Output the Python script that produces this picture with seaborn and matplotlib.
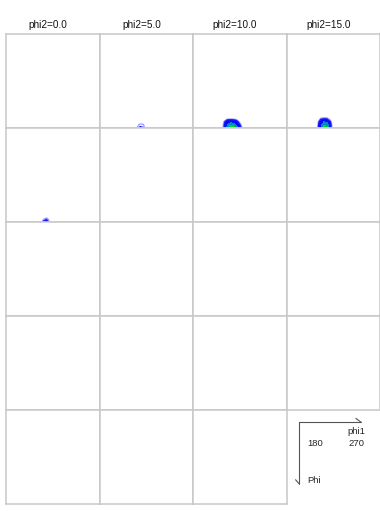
import numpy as np
import seaborn as sns
import matplotlib
matplotlib.use("Agg")
import matplotlib.pyplot as plt

# Euler angle ranges shown in every section
phi1_range = [180, 270]
Phi_range = [0, 90]
phi2_sections = [0.0, 5.0, 10.0, 15.0, 20.0, 25.0, 30.0, 35.0, 40.0, 45.0,
                 50.0, 55.0, 60.0, 65.0, 70.0, 75.0, 80.0, 85.0, 90.0]

# Sampling grid of the ODF intensity near the peaks
grid_phi1 = [204, 207, 210, 213, 216, 219, 222, 225, 228, 231]
grid_Phi = [78, 81, 84, 87, 90]

odf_phi2_5 = [
    [0, 0, 0, 0, 0, 0, 0, 0, 0, 0],
    [0, 0, 0, 0, 0, 0, 0, 0, 0, 0],
    [0, 0, 0, 0, 0.3, 0.5, 0.45, 0.1, 0, 0],
    [0, 0, 0, 0.1, 0.7, 1.05, 1.0, 0.4, 0, 0],
    [0, 0, 0, 0.2, 0.9, 1.35, 1.25, 0.5, 0, 0],
]
odf_phi2_10 = [
    [0, 0, 0, 0, 0, 0, 0, 0, 0, 0],
    [0, 0, 0.35, 0.7, 0.7, 0.7, 0.55, 0.2, 0, 0],
    [0, 0.1, 1.0, 2.0, 2.2, 2.1, 1.6, 0.7, 0.2, 0],
    [0, 0.2, 1.2, 2.6, 3.3, 3.2, 2.4, 1.3, 0.4, 0],
    [0, 0.3, 1.3, 3.0, 4.0, 3.9, 3.0, 1.7, 0.6, 0.1],
]
odf_phi2_15 = [
    [0, 0, 0, 0.2, 0.3, 0.25, 0.1, 0, 0, 0],
    [0, 0, 0.3, 1.0, 1.15, 1.1, 0.6, 0, 0, 0],
    [0, 0, 0.6, 2.0, 2.6, 2.4, 1.3, 0.2, 0, 0],
    [0, 0.1, 0.8, 2.3, 3.3, 3.1, 1.6, 0.3, 0, 0],
    [0, 0.1, 0.8, 2.5, 3.9, 3.7, 1.6, 0.3, 0, 0],
]
odf_phi2_20 = [
    [0, 0, 0, 0, 0, 0, 0, 0, 0, 0],
    [0, 0, 0, 0, 0, 0, 0, 0, 0, 0],
    [0, 0, 0, 0, 0.3, 0.4, 0.3, 0, 0, 0],
    [0, 0, 0, 0.1, 0.8, 1.1, 0.7, 0.1, 0, 0],
    [0, 0, 0, 0.2, 1.4, 1.8, 0.9, 0.2, 0, 0],
]
odf_sections = {5.0: odf_phi2_5, 10.0: odf_phi2_10,
                15.0: odf_phi2_15, 20.0: odf_phi2_20}

line_levels = [0.9, 1.2]
line_colors = ["#9c9cff", "#1a1aff"]
fill_levels = [1.5, 2.6, 3.4, 3.8, 99]
fill_colors = ["#0a0af0", "#0088c8", "#10c830", "#80e000"]

sns.set_style("white")
plt.rcParams["font.family"] = ["Liberation Sans", "DejaVu Sans"]

W, H = 380, 511
fig = plt.figure(figsize=(W / 100, H / 100), dpi=100)
fig.patch.set_facecolor("white")

col_x = [6, 99.5, 193, 286.5]
row_y = [34, 128, 222, 316, 410]
pw, ph = 93.5, 94

X, Y = np.meshgrid(grid_phi1, grid_Phi)

for i, phi2 in enumerate(phi2_sections):
    r, c = divmod(i, 4)
    ax = fig.add_axes([col_x[c] / W, 1 - (row_y[r] + ph) / H, pw / W, ph / H])
    ax.set_xlim(phi1_range)
    ax.set_ylim(Phi_range[1], Phi_range[0])
    ax.set_xticks([])
    ax.set_yticks([])
    for s in ax.spines.values():
        s.set_color("#c8c8c8")
        s.set_linewidth(1.1)
    if phi2 in odf_sections:
        Z = np.array(odf_sections[phi2])
        if Z.max() > fill_levels[0]:
            ax.contourf(X, Y, Z, levels=fill_levels, colors=fill_colors)
        ax.contour(X, Y, Z, levels=line_levels, colors=line_colors,
                   linewidths=0.9)
    if r == 0:
        ax.set_title(f"phi2={phi2:.1f}", fontsize=7.2, x=0.45, pad=4,
                     color="#111111")

# key panel showing axis directions
kx = fig.add_axes([col_x[3] / W, 1 - (row_y[4] + ph) / H, pw / W, ph / H])
kx.set_xlim(0, 1)
kx.set_ylim(0, 1)
kx.axis("off")
kc = "#555555"
kx.plot([0.132, 0.80], [0.868, 0.868], color=kc, lw=0.8)
kx.plot([0.742, 0.80], [0.911, 0.868], color=kc, lw=0.8)
kx.plot([0.132, 0.132], [0.868, 0.218], color=kc, lw=0.8)
kx.plot([0.097, 0.132], [0.258, 0.218], color=kc, lw=0.8)
kx.text(0.747, 0.774, "phi1", fontsize=6.8, ha="center", va="center")
kx.text(0.306, 0.645, f"{phi1_range[0]}", fontsize=6.8, ha="center", va="center")
kx.text(0.747, 0.645, f"{phi1_range[1]}", fontsize=6.8, ha="center", va="center")
kx.text(0.223, 0.247, "Phi", fontsize=6.8, ha="left", va="center")

fig.savefig("out.png", dpi=100, facecolor="white")
